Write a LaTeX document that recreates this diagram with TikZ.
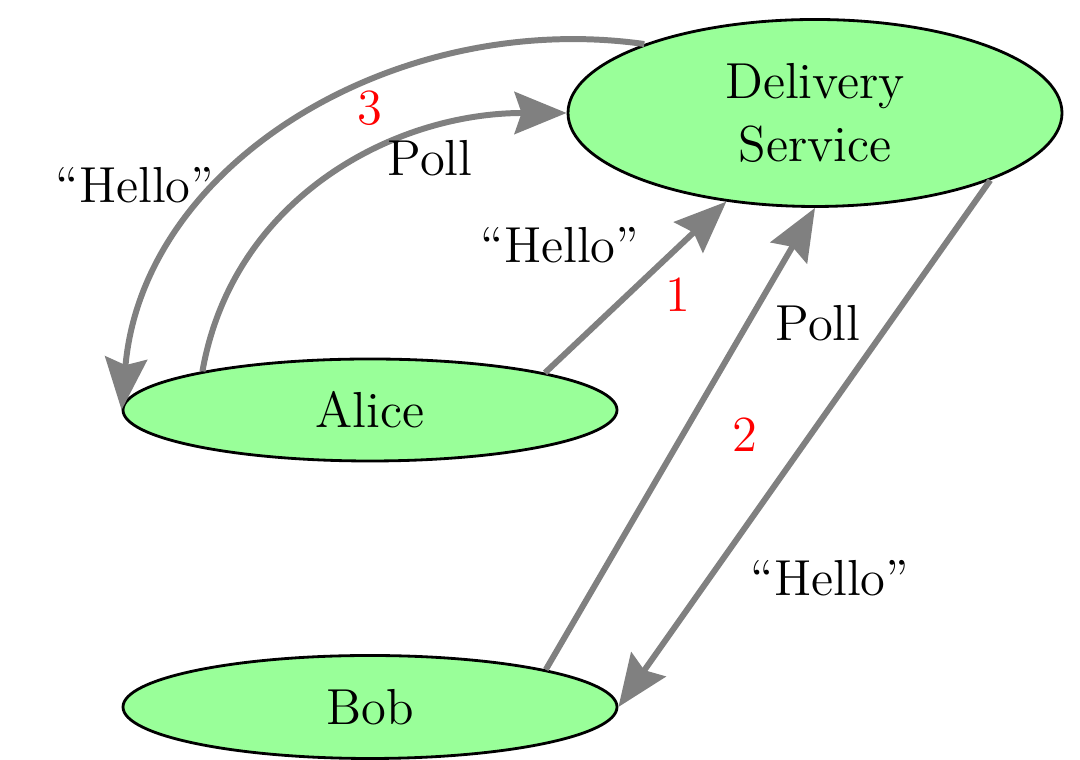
\documentclass[tikz,border=0pt]{standalone}
\usepackage{tikz}
\usetikzlibrary{shapes.geometric,arrows.meta}
\tikzstyle{party}=[ellipse, fill=green!40, draw=black, thick, inner sep=0pt, anchor=center, align=center, font=\Large]
\tikzstyle{msg}=[draw=gray, line width=1.7pt, -{Stealth[length=5.2mm,width=4.2mm,inset=0.7mm]}]
\tikzstyle{annot}=[align=center, font=\Large]
\tikzstyle{step_no}=[annot, text=red]

\begin{document}
\begin{tikzpicture}
	\useasboundingbox (0,0) rectangle (10.8,7.6);

	\node[party, minimum width=4.94cm, minimum height=1.87cm](ds) at (8.15,6.47){Delivery\\Service};
	\node[party, minimum width=4.94cm, minimum height=1.02cm](alice) at (3.70,3.50){Alice};
	\node[party, minimum width=4.94cm, minimum height=1.03cm](bob) at (3.70,0.53){Bob};

	% 1: alice sends
	\draw[msg] (alice.12) -- (ds.225);
	\node[annot](hello1) at (5.60,5.15){``Hello''};
	\node[step_no](one) at (6.78,4.65){1};

	% 2: bob polls, gets message
	\draw[msg] (bob.12) -- (ds.south);
	\draw[msg] (ds.-21) -- (bob.east);
	\node[annot](poll2) at (8.18,4.37){Poll};
	\node[step_no](two) at (7.45,3.25){2};
	\node[annot](hello2) at (8.30,1.82){``Hello''};

	% 3: alice polls
	\draw[msg] (alice.167) to[out=80, in=180] (ds.west);
	\draw[msg] (ds.158) to[out=172, in=85] (alice.west);
	\node[annot](poll3) at (4.30,6.02){Poll};
	\node[step_no](three) at (3.70,6.52){3};
	\node[annot](hello3) at (1.35,5.75){``Hello''};

\end{tikzpicture}
\end{document}
